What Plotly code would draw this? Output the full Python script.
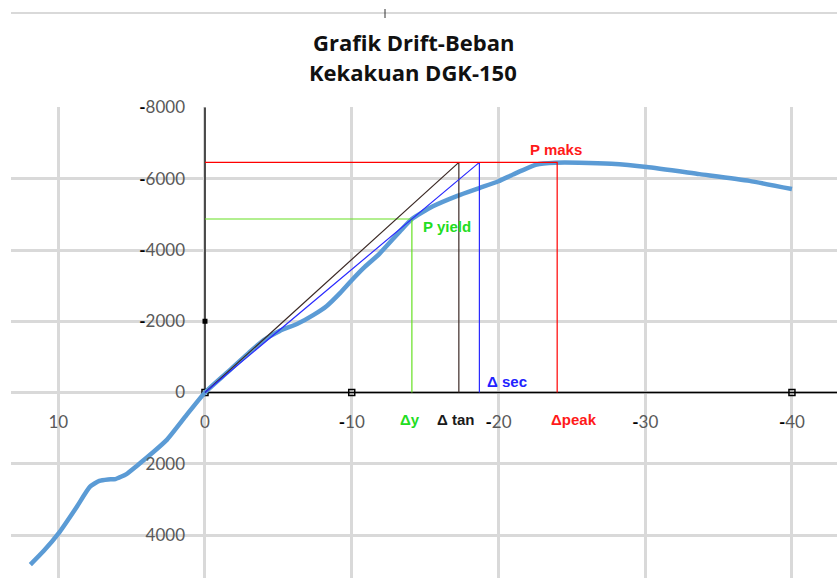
import plotly.graph_objects as go

# load-drift curve (drift %, load kg)
drift = [11.9, 11.0, 9.9, 8.8, 7.85, 7.2, 6.6, 6.1, 5.35, 4.65, 3.6, 2.6, 1.25, 0.0,
         -1.5, -3.0, -4.0, -5.1, -6.3, -7.4, -8.3, -9.2, -10.0, -10.8,
         -11.9, -13.3, -14.1, -15.5, -17.2, -18.7, -20.0, -21.0, -22.6,
         -23.9, -25.5, -27.7, -30.1, -33.7, -37.1, -40.0]
load = [4830, 4450, 3910, 3250, 2650, 2480, 2440, 2430, 2290, 2060, 1700, 1330, 630, 0,
        -560, -1120, -1470, -1730, -1930, -2180, -2430, -2790, -3150, -3490,
        -3900, -4530, -4870, -5220, -5520, -5740, -5930, -6120, -6400,
        -6450, -6450, -6420, -6330, -6130, -5940, -5710]

# bilinear idealisation values
P_max = -6460
P_yield = -4870
d_y = -14.1
d_tan = -17.3
d_sec = -18.7
d_peak = -24.0

x_ticks = [10, 0, -10, -20, -30, -40]
y_ticks = [-8000, -6000, -4000, -2000, 0, 2000, 4000]

# black axis lines with their square markers
axis_x = [0, 0, None, 0, -45]
axis_y = [-8000, 0, None, 0, 0]
mark_x = [0, -10, -40]
mark_y = [0, 0, 0]


def tick_text(v):
    if v < 0:
        return "<span style='color:#000000'><b>-</b></span>" + str(abs(v))
    return str(v)


GRID = "#d9d9d9"
W, H = 837, 578
L, T = 11, 107
pw, ph = W - L, H - T

fig = go.Figure()

fig.add_trace(go.Scatter(x=axis_x, y=axis_y, mode="lines",
                         line=dict(color="#000000", width=1.3)))
fig.add_trace(go.Scatter(x=mark_x, y=mark_y, mode="markers",
                         marker=dict(symbol="square-open", size=6, color="#000000",
                                     line=dict(width=1.5))))
fig.add_trace(go.Scatter(x=[0], y=[-2000], mode="markers",
                         marker=dict(symbol="square", size=5, color="#000000")))

fig.add_trace(go.Scatter(x=drift, y=load, mode="lines",
                         line=dict(color="#5b9bd5", width=4.5, shape="spline", smoothing=0.5)))

fig.add_trace(go.Scatter(x=[0, d_y, d_y], y=[P_yield, P_yield, 0], mode="lines",
                         line=dict(color="#66e022", width=1.2)))
fig.add_trace(go.Scatter(x=[0, d_tan, d_tan], y=[0, P_max, 0], mode="lines",
                         line=dict(color="#3c2a26", width=1.2)))
fig.add_trace(go.Scatter(x=[0, d_sec, d_sec], y=[0, P_max, 0], mode="lines",
                         line=dict(color="#2a2aff", width=1.2)))
fig.add_trace(go.Scatter(x=[0, d_peak, d_peak], y=[P_max, P_max, 0], mode="lines",
                         line=dict(color="#ff0000", width=1.2)))

lab = dict(family="Liberation Sans, Arial", size=15)
notes = [
    ("P maks", -23.9, -6520, "center", "bottom", "#ff1a1a"),
    ("P yield", -14.7, -4650, "left", "middle", "#22dd22"),
    ("Δ sec", -19.1, -320, "left", "middle", "#2222ff"),
    ("Δy", -14.0, 750, "center", "middle", "#22dd22"),
    ("Δ tan", -17.1, 750, "center", "middle", "#1a1a1a"),
    ("Δpeak", -25.15, 750, "center", "middle", "#ff1a1a"),
]
for text, x, y, xa, ya, c in notes:
    fig.add_annotation(x=x, y=y, text="<b>" + text + "</b>", showarrow=False,
                       xanchor=xa, yanchor=ya, font=dict(lab, color=c))

# two-line chart title
title_font = dict(family="Open Sans", size=22, color="#111111")
for text, py in [("Grafik Drift-Beban", 42), ("Kekakuan DGK-150", 72)]:
    fig.add_annotation(xref="paper", yref="paper", x=(413 - L) / pw, y=(H - py) / ph,
                       text="<b>" + text + "</b>", showarrow=False,
                       xanchor="center", yanchor="middle", font=title_font)

fig.update_layout(
    width=W, height=H,
    margin=dict(l=L, r=0, t=T, b=0, autoexpand=False),
    paper_bgcolor="white", plot_bgcolor="white",
    showlegend=False,
    font=dict(family="Lato", size=17, color="#595959"),
)

fig.update_xaxes(range=[13.22, -43.07], tickvals=x_ticks,
                 ticktext=[tick_text(v) for v in x_ticks],
                 showgrid=True, gridcolor=GRID, gridwidth=2.5, zeroline=False,
                 showline=False, ticks="", anchor="free", position=(H - 410) / ph)
fig.update_yaxes(range=[5207, -8014], tickvals=y_ticks,
                 ticktext=[tick_text(v) for v in y_ticks],
                 showgrid=True, gridcolor=GRID, gridwidth=2.5, zeroline=False,
                 showline=False, ticks="", anchor="free", position=(185 - L) / pw)

# top chart border and small tick
fig.add_shape(type="line", xref="paper", yref="paper", x0=0, x1=1,
              y0=(H - 13) / ph, y1=(H - 13) / ph, line=dict(color=GRID, width=2))
fig.add_shape(type="line", xref="paper", yref="paper",
              x0=(385 - L) / pw, x1=(385 - L) / pw,
              y0=(H - 9) / ph, y1=(H - 18) / ph, line=dict(color="#333333", width=1))

fig.write_html("out.html", config={"displayModeBar": False},
               post_script="document.body.style.margin='0';")
